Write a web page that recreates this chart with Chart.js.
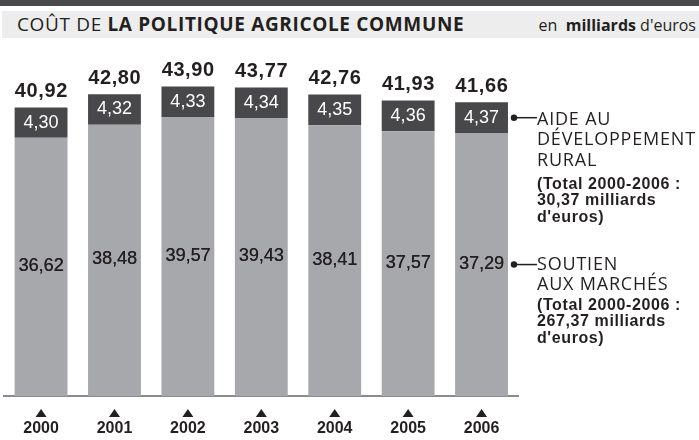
<!DOCTYPE html>
<html>
<head>
<meta charset="utf-8">
<title>Coût de la politique agricole commune</title>
<script src="https://cdn.jsdelivr.net/npm/chart.js"></script>
<style>
  body {
    margin: 0;
    width: 699px;
    height: 440px;
    overflow: hidden;
    position: relative;
    background: #fff;
    color: #231f20;
    font-family: 'Open Sans', sans-serif;
  }
  .topbar {
    position: absolute;
    left: 0; top: 0;
    width: 699px; height: 6px;
    background: #4a4a4c;
  }
  .band {
    position: absolute;
    left: 2px; top: 11px;
    width: 697px; height: 27px;
    background: #ededed;
  }
  .heading {
    position: absolute;
    left: 17px; top: 15px;
    width: 679px;
    line-height: 18px;
    display: flex;
    justify-content: space-between;
    align-items: baseline;
    white-space: nowrap;
  }
  .heading .title {
    font-size: 19px;
    letter-spacing: 0.65px;
  }
  .heading .unit {
    font-size: 16px;
  }
  b { font-weight: 700; }
  canvas {
    position: absolute;
    left: 0; top: 0;
  }
  .note {
    position: absolute;
    left: 537px;
    white-space: nowrap;
  }
  .note .big {
    font-size: 18px;
    letter-spacing: 0.8px;
    line-height: 20.5px;
  }
  .note .small {
    font-family: 'Liberation Sans', Arial, sans-serif;
    font-weight: 700;
    font-size: 16px;
    letter-spacing: 0.6px;
    line-height: 16.5px;
  }
</style>
</head>
<body>
  <div class="topbar"></div>
  <div class="band"></div>
  <div class="heading">
    <span class="title">COÛT DE <b>LA POLITIQUE AGRICOLE COMMUNE</b></span>
    <span class="unit">en&nbsp; <b>milliards</b> d'euros</span>
  </div>

  <canvas id="pac" width="699" height="440"></canvas>

  <div class="note" style="top:107.6px">
    <div class="big">AIDE AU<br>DÉVELOPPEMENT<br>RURAL</div>
    <div class="small" style="margin-top:6.5px">(Total 2000-2006 :<br>30,37 milliards<br>d'euros)</div>
  </div>
  <div class="note" style="top:252.6px">
    <div class="big">SOUTIEN<br>AUX MARCHÉS</div>
    <div class="small" style="margin-top:3px">(Total 2000-2006 :<br>267,37 milliards<br>d'euros)</div>
  </div>

<script>
  // Data (milliards d'euros)
  const years = ['2000', '2001', '2002', '2003', '2004', '2005', '2006'];
  const soutienMarches = [36.62, 38.48, 39.57, 39.43, 38.41, 37.57, 37.29];
  const aideRurale = [4.30, 4.32, 4.33, 4.34, 4.35, 4.36, 4.37];
  const totals = [40.92, 42.80, 43.90, 43.77, 42.76, 41.93, 41.66];

  const INK = '#231f20';
  const fmt = v => v.toFixed(2).replace('.', ',');

  // Values on and above the bars, markers for legend notes, triangles over years
  const decorations = {
    id: 'decorations',
    afterDatasetsDraw(chart) {
      const ctx = chart.ctx;
      const low = chart.getDatasetMeta(0).data;
      const high = chart.getDatasetMeta(1).data;
      ctx.save();
      ctx.textAlign = 'center';
      ctx.textBaseline = 'alphabetic';

      low.forEach((bar, i) => {
        const mid = (bar.y + bar.base) / 2;
        ctx.font = '18px "Liberation Sans", Arial, sans-serif';
        ctx.fillStyle = INK;
        ctx.fillText(fmt(soutienMarches[i]), bar.x, mid + 4);
        // slight second pass for a denser print look
        ctx.fillText(fmt(soutienMarches[i]), bar.x + 0.3, mid + 4);
      });

      high.forEach((bar, i) => {
        const mid = (bar.y + bar.base) / 2;
        ctx.font = '18px "Liberation Sans", Arial, sans-serif';
        ctx.fillStyle = '#fff';
        ctx.fillText(fmt(aideRurale[i]), bar.x, mid + 5);

        ctx.font = 'bold 20px "Liberation Sans", Arial, sans-serif';
        ctx.letterSpacing = '0.6px';
        ctx.fillStyle = INK;
        ctx.fillText(fmt(totals[i]), bar.x + 0.3, bar.y - 10.5);
        ctx.letterSpacing = '0px';
      });

      // connector dots for the two notes on the right
      const lastLow = low[low.length - 1];
      const lastHigh = high[high.length - 1];
      const x0 = lastHigh.x + lastHigh.width / 2 + 6;
      [lastHigh, lastLow].forEach(bar => {
        const y = (bar.y + bar.base) / 2;
        ctx.fillStyle = INK;
        ctx.strokeStyle = INK;
        ctx.lineWidth = 1.5;
        ctx.beginPath();
        ctx.arc(x0, y, 3.2, 0, Math.PI * 2);
        ctx.fill();
        ctx.beginPath();
        ctx.moveTo(x0, y);
        ctx.lineTo(x0 + 23, y);
        ctx.stroke();
      });

      // small triangles above the year labels
      const xs = chart.scales.x;
      ctx.fillStyle = INK;
      years.forEach((y, i) => {
        const px = xs.getPixelForTick(i);
        ctx.beginPath();
        ctx.moveTo(px, 409);
        ctx.lineTo(px + 5.5, 417);
        ctx.lineTo(px - 5.5, 417);
        ctx.closePath();
        ctx.fill();
      });
      ctx.restore();
    }
  };

  new Chart(document.getElementById('pac'), {
    type: 'bar',
    data: {
      labels: years,
      datasets: [
        {
          label: 'Soutien aux marchés',
          data: soutienMarches,
          backgroundColor: '#a7a8ab',
          borderWidth: 0,
          barPercentage: 0.72,
          categoryPercentage: 1.0
        },
        {
          label: 'Aide au développement rural',
          data: aideRurale,
          backgroundColor: '#48484a',
          borderWidth: 0,
          barPercentage: 0.72,
          categoryPercentage: 1.0
        }
      ]
    },
    options: {
      responsive: false,
      animation: false,
      events: [],
      layout: {
        padding: { left: 3.75, right: 180.75, top: 43.5, bottom: 0 }
      },
      scales: {
        x: {
          stacked: true,
          grid: { display: false, drawTicks: false },
          border: { display: true, color: '#8a8b8e', width: 2 },
          ticks: {
            color: INK,
            font: { family: '"Liberation Sans", Arial, sans-serif', size: 16, weight: 'bold' },
            padding: 23,
            autoSkip: false,
            maxRotation: 0
          },
          afterFit(scale) { scale.height = 44; }
        },
        y: {
          stacked: true,
          display: false,
          min: 0,
          max: 50
        }
      },
      plugins: {
        legend: { display: false },
        tooltip: { enabled: false }
      }
    },
    plugins: [decorations]
  });
</script>
</body>
</html>
